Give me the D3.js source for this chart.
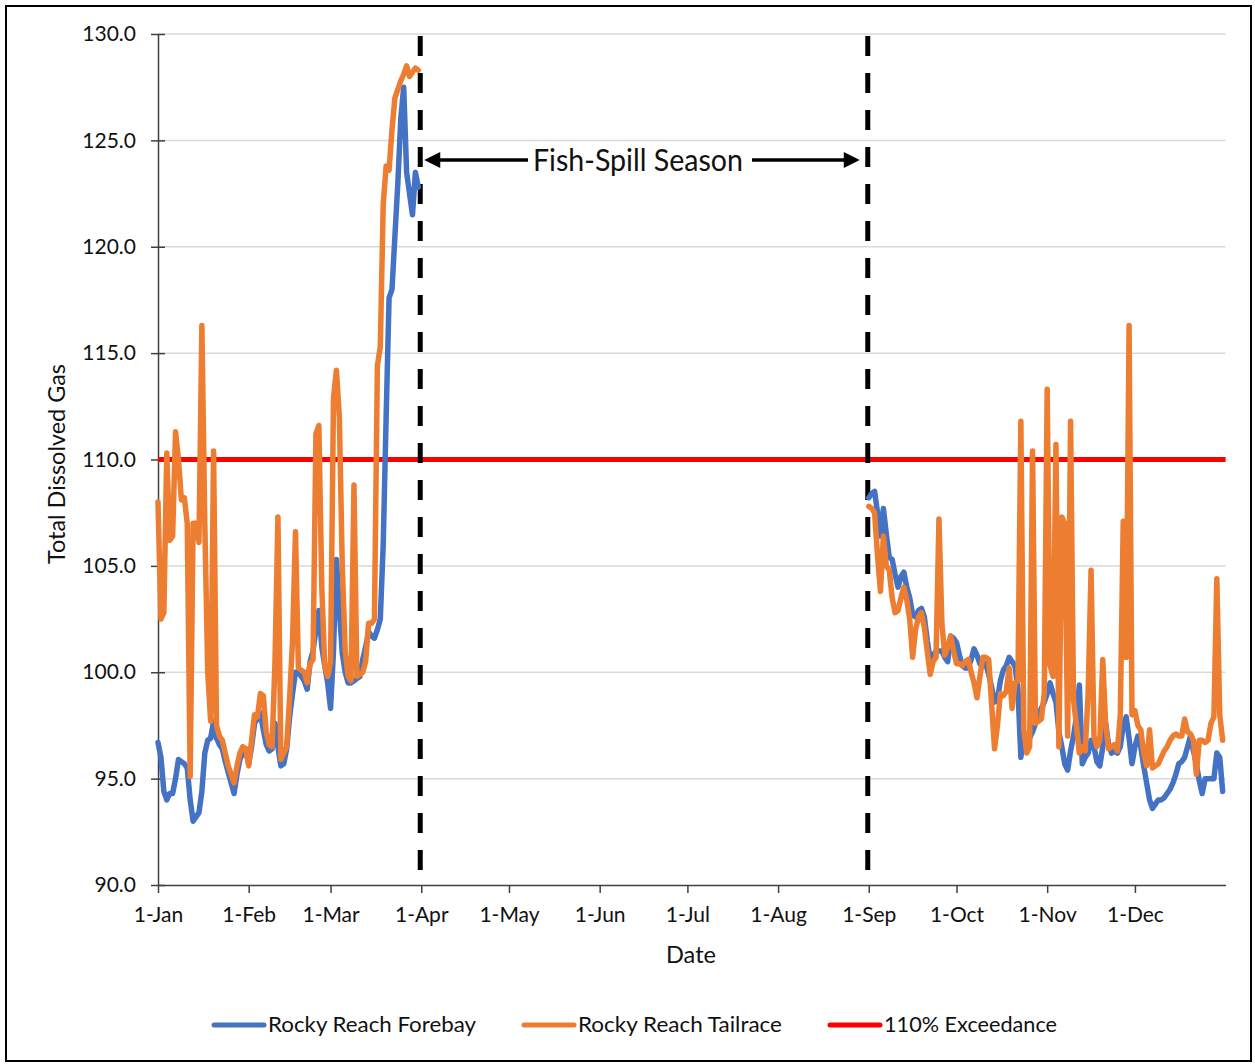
<!DOCTYPE html>
<html>
<head>
<meta charset="utf-8">
<script src="https://cdn.jsdelivr.net/npm/d3@7"></script>
<style>
  html, body { margin: 0; padding: 0; background: #fff; }
  svg { display: block; font-family: Lato, "Open Sans", sans-serif; }
</style>
</head>
<body>
<svg id="chart" width="1255" height="1064"></svg>
<script>
// daily values, 1-Jan .. 31-Mar
const forebayJanMar = [
  96.7, 96.0, 94.4, 94.0, 94.3, 94.3, 95.0, 95.9, 95.8, 95.7,
  95.5, 94.0, 93.0, 93.2, 93.4, 94.4, 96.2, 96.8, 96.9, 97.7,
  96.9, 96.6, 96.4, 95.8, 95.3, 94.8, 94.3, 95.2, 95.9, 96.2,
  96.4, 95.7, 96.5, 97.6, 97.8, 98.1, 97.3, 96.6, 96.3, 96.4,
  97.6, 96.5, 95.6, 95.7, 96.4, 97.9, 99.0, 100.0, 100.0, 99.8,
  99.6, 99.2, 100.5, 101.0, 102.0, 102.9, 101.2, 100.3, 99.5, 98.3,
  101.0, 105.3, 103.0, 100.9, 100.0, 99.5, 99.5, 99.6, 99.7, 99.8,
  100.6, 101.2, 101.9, 101.7, 101.6, 102.0, 102.5, 106.0, 112.0, 117.6,
  118.0, 120.5, 123.0, 126.0, 127.5, 123.5, 122.5, 121.5, 123.5, 122.8
];
const tailraceJanMar = [
  108.0, 102.5, 102.8, 110.3, 106.2, 106.4, 111.3, 110.0, 108.1, 108.2,
  107.0, 95.1, 107.0, 107.0, 106.1, 116.3, 107.0, 100.0, 97.7, 110.4,
  97.5, 97.0, 96.8, 96.2, 95.6, 95.2, 94.8, 95.6, 96.2, 96.5,
  96.4, 95.6, 96.8, 98.0, 97.9, 99.0, 98.9, 97.2, 96.6, 96.5,
  100.5, 107.3, 95.9, 96.2, 96.5, 98.8, 101.5, 106.6, 100.2, 100.1,
  100.0, 99.5, 100.4, 100.6, 111.2, 111.6, 104.0, 100.3, 99.8, 100.5,
  112.9, 114.2, 112.0, 105.0, 101.0, 99.8, 99.6, 108.8, 99.8, 99.9,
  100.0, 100.5, 102.3, 102.3, 102.5, 114.4, 115.3, 122.0, 123.8, 123.6,
  125.5, 127.0, 127.4, 127.8, 128.1, 128.5, 128.0, 128.2, 128.4, 128.3
];
// daily values, 1-Sep .. 31-Dec
const forebaySepDec = [
  108.2, 108.4, 108.5, 107.5, 106.4, 107.7, 106.5, 105.4, 105.3, 104.6,
  104.0, 104.5, 104.7, 104.0, 103.5, 102.7, 102.6, 102.9, 103.0, 102.6,
  101.5, 100.6, 100.8, 101.0, 101.0, 101.0, 100.7, 100.5, 101.7, 101.6,
  101.4, 100.8, 100.3, 100.2, 100.2, 100.6, 101.1, 100.8, 100.4, 100.3,
  100.4, 99.9, 99.3, 98.6, 98.7, 99.6, 100.1, 100.3, 100.7, 100.5,
  100.3, 99.2, 96.0, 97.1, 97.0, 96.9, 97.2, 97.6, 98.0, 98.3,
  98.6, 99.0, 99.5, 99.0, 98.6, 97.2, 96.5, 95.7, 95.4, 96.3,
  97.0, 97.9, 99.4, 95.7, 96.0, 96.2, 96.8, 96.5, 95.8, 95.6,
  96.5, 97.6, 96.6, 96.2, 96.3, 96.2, 96.5, 97.5, 97.9, 96.9,
  95.7, 96.5, 97.0, 96.5, 95.6, 94.8, 94.0, 93.6, 93.8, 94.0,
  94.0, 94.1, 94.3, 94.5, 94.8, 95.2, 95.7, 95.8, 96.0, 96.5,
  97.0, 96.3, 95.7, 94.9, 94.3, 95.0, 95.0, 95.0, 95.0, 96.2,
  96.0, 94.4
];
const tailraceSepDec = [
  107.8, 107.7, 107.5, 105.5, 103.8, 106.4, 105.0, 104.8, 103.5, 102.8,
  102.9, 103.5, 104.0, 103.4, 102.5, 100.7, 102.0, 102.6, 102.8, 102.1,
  101.0, 99.9, 100.5, 100.7, 107.2, 102.3, 100.8, 101.2, 101.7, 101.0,
  100.4, 100.4, 100.3, 100.5, 100.6, 100.0, 99.5, 98.8, 99.8, 100.7,
  100.7, 100.6, 98.5, 96.4, 97.5, 99.0, 98.9, 99.1, 100.2, 98.3,
  99.5, 99.6, 111.8, 97.3, 96.2, 96.5, 110.4, 97.6, 97.7, 97.8,
  99.0, 113.3, 100.3, 99.8, 110.7, 96.5, 107.3, 107.0, 97.0, 111.8,
  98.7, 97.5, 96.2, 96.5, 96.3, 99.0, 104.8, 97.0, 96.5, 96.8,
  100.6, 97.5, 96.4, 96.5, 96.6, 96.3, 98.0, 107.1, 100.7, 116.3,
  98.0, 98.2, 97.5, 97.3, 96.2, 95.6, 97.3, 95.5, 95.6, 95.7,
  96.0, 96.3, 96.5, 96.8, 97.0, 97.1, 97.0, 97.0, 97.8, 97.2,
  97.1, 96.8, 95.2, 96.8, 96.8, 96.7, 96.8, 97.6, 97.9, 104.4,
  98.0, 96.8
];

const yTicks          = [90, 95, 100, 105, 110, 115, 120, 125, 130];
const exceedanceLevel = 110;
const seriesNames     = ["Rocky Reach Forebay", "Rocky Reach Tailrace", "110% Exceedance"];
const seasonLabel     = "Fish-Spill Season";

const year       = 2019;
const janStart   = new Date(year, 0, 1);
const sepStart   = new Date(year, 8, 1);
const yearEnd    = new Date(year + 1, 0, 1);
const spillStart = new Date(year, 3, 1);
const spillEnd   = new Date(year, 8, 1);

const colors = {forebay: "#4472C4", tailrace: "#ED7D31", exceed: "#FF0000"};

const svg = d3.select("#chart");

const x = d3.scaleTime().domain([janStart, yearEnd]).range([158, 1225.6]);
const y = d3.scaleLinear().domain([90, 130]).range([885, 34]);

function toPoints(start, values) {
  return values.map((v, i) => ({date: d3.timeDay.offset(start, i), value: v}));
}

// outer frame
svg.append("rect")
  .attr("x", 6).attr("y", 6).attr("width", 1245).attr("height", 1055)
  .attr("fill", "none").attr("stroke", "#000").attr("stroke-width", 2);

// gridlines
svg.append("g")
  .selectAll("line").data(yTicks.slice(1)).enter()
  .append("line")
  .attr("x1", x.range()[0]).attr("x2", x.range()[1])
  .attr("y1", d => y(d)).attr("y2", d => y(d))
  .attr("stroke", "#d9d9d9").attr("stroke-width", 1.5);

// axes
const xAxis = svg.append("g")
  .attr("transform", `translate(0,${y(90)})`)
  .call(d3.axisBottom(x)
    .tickValues(d3.timeMonth.range(janStart, yearEnd))
    .tickFormat(d3.timeFormat("%-d-%b"))
    .tickSizeInner(8).tickSizeOuter(0).tickPadding(14));
xAxis.select(".domain").attr("stroke", "#404040").attr("stroke-width", 1.5);
xAxis.selectAll(".tick line").attr("stroke", "#404040").attr("stroke-width", 1.5);
xAxis.selectAll("text").attr("font-size", 21).attr("fill", "#111").attr("font-family", "Lato");

const yAxis = svg.append("g")
  .attr("transform", `translate(${x.range()[0]},0)`)
  .call(d3.axisLeft(y)
    .tickValues(yTicks)
    .tickFormat(d3.format(".1f"))
    .tickSizeInner(7).tickSizeOuter(0).tickPadding(15));
yAxis.select(".domain").attr("stroke", "#404040").attr("stroke-width", 1.5);
yAxis.selectAll(".tick line").attr("x1", 7).attr("stroke", "#404040").attr("stroke-width", 1.5);
yAxis.selectAll("text").attr("font-size", 21).attr("fill", "#111").attr("font-family", "Lato");

// axis titles
svg.append("text")
  .attr("x", 691).attr("y", 955).attr("dy", "0.35em")
  .attr("text-anchor", "middle").attr("font-size", 23).attr("fill", "#111")
  .attr("textLength", 50).attr("lengthAdjust", "spacingAndGlyphs")
  .text("Date");

svg.append("text")
  .attr("transform", "translate(57,464) rotate(-90)")
  .attr("dy", "0.35em")
  .attr("text-anchor", "middle").attr("font-size", 23).attr("fill", "#111")
  .attr("textLength", 200).attr("lengthAdjust", "spacingAndGlyphs")
  .text("Total Dissolved Gas");

// exceedance line
svg.append("line")
  .attr("x1", x.range()[0]).attr("x2", x.range()[1])
  .attr("y1", y(exceedanceLevel)).attr("y2", y(exceedanceLevel))
  .attr("stroke", colors.exceed).attr("stroke-width", 5);

// season boundaries
svg.append("g")
  .selectAll("line").data([spillStart, spillEnd]).enter()
  .append("line")
  .attr("x1", d => x(d) - 1).attr("x2", d => x(d) - 1)
  .attr("y1", y(130) + 2).attr("y2", y(90))
  .attr("stroke", "#000").attr("stroke-width", 5)
  .attr("stroke-dasharray", "20,17");

// data lines
const line = d3.line().x(d => x(d.date)).y(d => y(d.value));

const series = [
  {values: toPoints(janStart, forebayJanMar),  color: colors.forebay},
  {values: toPoints(sepStart, forebaySepDec),  color: colors.forebay},
  {values: toPoints(janStart, tailraceJanMar), color: colors.tailrace},
  {values: toPoints(sepStart, tailraceSepDec), color: colors.tailrace}
];

svg.append("g")
  .selectAll("path").data(series).enter()
  .append("path")
  .attr("d", d => line(d.values))
  .attr("fill", "none")
  .attr("stroke", d => d.color)
  .attr("stroke-width", 5.5)
  .attr("stroke-linejoin", "round")
  .attr("stroke-linecap", "round");

// fish-spill annotation
const arrowY    = 160;
const leftTip   = x(spillStart) + 3;
const rightTip  = x(spillEnd) - 9;
const textMid   = 638;
const textWidth = 210;

svg.append("text")
  .attr("x", textMid).attr("y", arrowY).attr("dy", "0.35em")
  .attr("text-anchor", "middle").attr("font-size", 30).attr("fill", "#111")
  .attr("textLength", textWidth).attr("lengthAdjust", "spacingAndGlyphs")
  .text(seasonLabel);

const arrows = [
  {tip: leftTip,  tail: textMid - textWidth / 2 - 5, dir: 1},
  {tip: rightTip, tail: textMid + textWidth / 2 + 9, dir: -1}
];
const ann = svg.append("g");
ann.selectAll("line").data(arrows).enter()
  .append("line")
  .attr("x1", d => d.tail).attr("x2", d => d.tip + d.dir * 14)
  .attr("y1", arrowY).attr("y2", arrowY)
  .attr("stroke", "#000").attr("stroke-width", 3.5);
ann.selectAll("path").data(arrows).enter()
  .append("path")
  .attr("d", d => `M${d.tip},${arrowY}L${d.tip + d.dir * 16},${arrowY - 8}L${d.tip + d.dir * 16},${arrowY + 8}Z`)
  .attr("fill", "#000");

// legend
const legendItems = [
  {name: seriesNames[0], color: colors.forebay,  x: 212, w: 208},
  {name: seriesNames[1], color: colors.tailrace, x: 522, w: 204},
  {name: seriesNames[2], color: colors.exceed,   x: 828, w: 173}
];
const legend = svg.append("g").attr("transform", "translate(0,1025)");
const li = legend.selectAll("g").data(legendItems).enter()
  .append("g").attr("transform", d => `translate(${d.x},0)`);
li.append("line")
  .attr("x1", 2).attr("x2", 52).attr("y1", 0).attr("y2", 0)
  .attr("stroke", d => d.color).attr("stroke-width", 5)
  .attr("stroke-linecap", "round");
li.append("text")
  .attr("x", 56).attr("dy", "0.35em")
  .attr("font-size", 21).attr("fill", "#111")
  .attr("textLength", d => d.w).attr("lengthAdjust", "spacingAndGlyphs")
  .text(d => d.name);
</script>
</body>
</html>
